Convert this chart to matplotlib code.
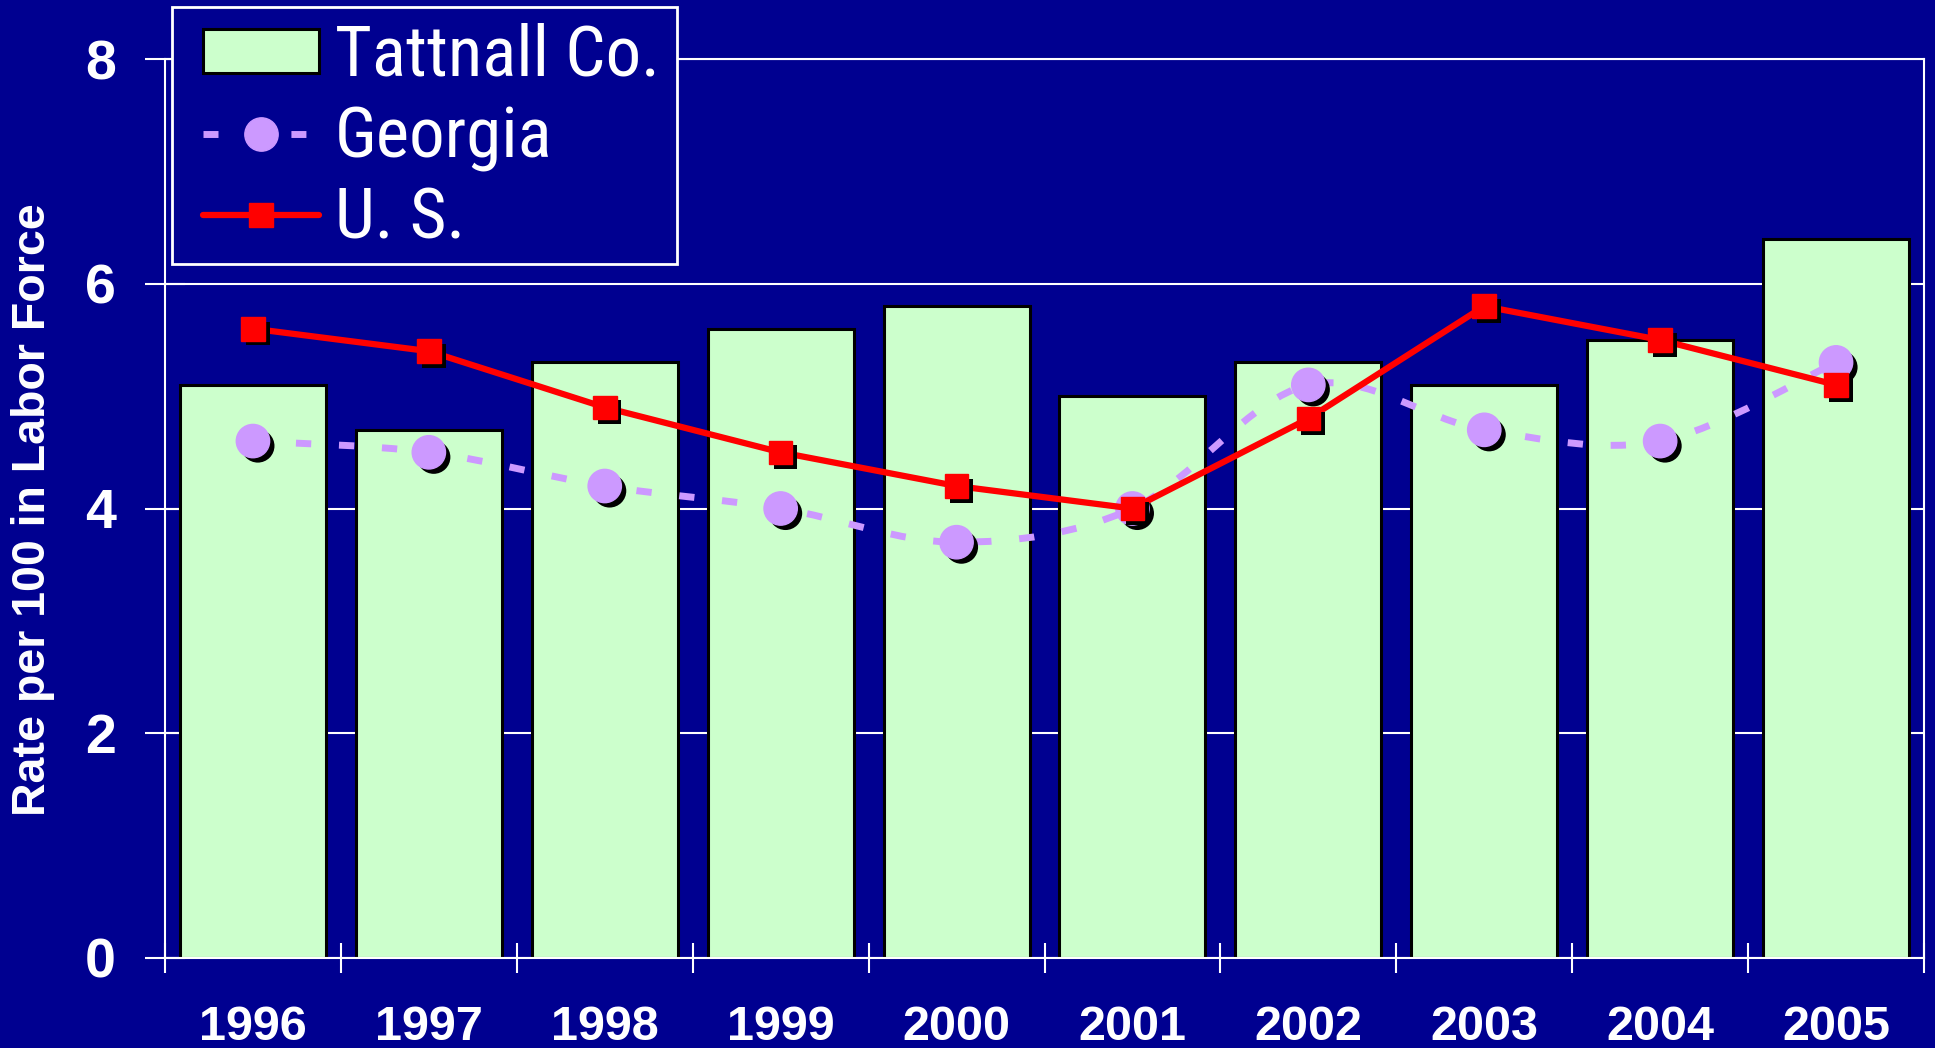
import os
import numpy as np
import matplotlib
matplotlib.use("Agg")
import matplotlib.pyplot as plt
import matplotlib.patheffects as pe
from matplotlib import font_manager as fm
from matplotlib.font_manager import FontProperties
from matplotlib.path import Path
from matplotlib.patches import PathPatch, Patch, Rectangle
from matplotlib.lines import Line2D

# data
years = ["1996", "1997", "1998", "1999", "2000", "2001", "2002", "2003", "2004", "2005"]
tattnall = [5.1, 4.7, 5.3, 5.6, 5.8, 5.0, 5.3, 5.1, 5.5, 6.4]
georgia = [4.6, 4.5, 4.2, 4.0, 3.7, 4.0, 5.1, 4.7, 4.6, 5.3]
us = [5.6, 5.4, 4.9, 4.5, 4.2, 4.0, 4.8, 5.8, 5.5, 5.1]
yticks = [0, 2, 4, 6, 8]
labels = ["Tattnall Co.", "Georgia", "U. S."]

bg = "#000090"
bar_col = "#CCFFCC"
ga_col = "#CC99FF"
us_col = "#FF0000"


def narrow_font(size):
    # look for a condensed sans face for the legend text
    prefs = ["liberation sans narrow", "arial narrow", "roboto condensed",
             "open sans", "noto sans", "dejavu sans"]
    found = []
    for f in fm.fontManager.ttflist:
        base = os.path.basename(f.fname).lower()
        cond = ("condensed" in str(f.stretch) or "narrow" in f.name.lower()
                or "condensed" in f.name.lower() or "narrow" in base or "condensed" in base)
        if not cond or "bold" in base or "italic" in base or "oblique" in base:
            continue
        if "extra" in base or "semi" in base or "light" in base or "black" in base \
                or "medium" in base or "thin" in base:
            continue
        rank = len(prefs)
        for i, p in enumerate(prefs):
            if f.name.lower().startswith(p):
                rank = i
                break
        found.append((rank, f.fname))
    if found:
        found.sort()
        return FontProperties(fname=found[0][1], size=size)
    return FontProperties(family="Liberation Sans", size=size * 0.85)


W, H = 1935, 1048
fig = plt.figure(figsize=(W / 100, H / 100), dpi=100, facecolor=bg)
ax = fig.add_axes([165 / W, 1 - 958 / H, (1924 - 165) / W, (958 - 59) / H])
ax.set_facecolor(bg)

x = np.arange(len(years))

# bars
ax.bar(x, tattnall, width=0.83, color=bar_col, edgecolor="black", linewidth=2.2, zorder=2)

# smoothed georgia line (catmull-rom -> bezier)
pts = np.column_stack([x, georgia]).astype(float)
ext = np.vstack([pts[0], pts, pts[-1]])
verts = [tuple(pts[0])]
codes = [Path.MOVETO]
for i in range(len(pts) - 1):
    p0, p1, p2, p3 = ext[i], ext[i + 1], ext[i + 2], ext[i + 3]
    c1 = p1 + (p2 - p0) / 6
    c2 = p2 - (p3 - p1) / 6
    verts += [tuple(c1), tuple(c2), tuple(p2)]
    codes += [Path.CURVE4] * 3
ga_patch = PathPatch(Path(verts, codes), fill=False, edgecolor=ga_col, linewidth=5,
                     linestyle=(0, (2.2, 4)), capstyle="butt", zorder=3)
ax.add_patch(ga_patch)

shadow = [pe.SimplePatchShadow(offset=(3.5, -3.5), shadow_rgbFace="black", alpha=1), pe.Normal()]
ax.plot(x, georgia, linestyle="none", marker="o", ms=24, color=ga_col, zorder=4,
        path_effects=shadow)

# US line
ax.plot(x, us, color=us_col, lw=4.5, zorder=5)
ax.plot(x, us, linestyle="none", marker="s", ms=17, color=us_col, zorder=6,
        path_effects=shadow)

ax.set_xlim(-0.5, 9.5)
ax.set_ylim(0, 8)

ax.set_yticks(yticks)
ax.set_yticklabels([str(t) for t in yticks])
ax.set_xticks(x)
ax.set_xticklabels(years)
ax.set_xticks(np.arange(-0.5, 10, 1), minor=True)

ax.tick_params(axis="x", which="major", length=0, pad=33.5, labelsize=35, labelcolor="white")
ax.tick_params(axis="x", which="minor", direction="inout", length=21.6, width=1.5, color="white")
ax.tick_params(axis="y", direction="inout", length=29, width=1.5, color="white",
               pad=21, labelsize=40, labelcolor="white")
for lab in ax.get_xticklabels() + ax.get_yticklabels():
    lab.set_fontfamily("Liberation Sans")
    lab.set_fontweight("bold")

ax.yaxis.grid(True, color="white", linewidth=1.5)
ax.set_axisbelow(True)
for s in ax.spines.values():
    s.set_color("white")
    s.set_linewidth(1.5)

fig.text(33 / W, 1 - 510 / H, "Rate per 100 in Labor Force", rotation=90, ha="center", va="center",
         color="white", fontsize=33.5, fontweight="bold", family="Liberation Sans")

# legend box
fig.patches.append(Rectangle((172 / W, 1 - 264 / H), (677 - 172) / W, (264 - 7) / H,
                             transform=fig.transFigure, facecolor=bg, edgecolor="white",
                             linewidth=2, zorder=1))

handles = [
    Patch(facecolor=bar_col, edgecolor="black", linewidth=2.2),
    Line2D([], [], color=ga_col, lw=5, linestyle=(0, (2.16, 10.5)), dash_capstyle="butt",
           marker="o", ms=24),
    Line2D([], [], color=us_col, lw=4.5, solid_capstyle="round", marker="s", ms=17),
]
leg = fig.legend(handles, labels, loc="upper left",
                 bbox_to_anchor=(203 / W, 1 - 23 / H), bbox_transform=fig.transFigure,
                 borderaxespad=0, borderpad=0, frameon=False, labelcolor="white",
                 handlelength=1.64, handleheight=0.57, handletextpad=0.22,
                 labelspacing=0.2, prop=narrow_font(51))
leg.set_zorder(2)

fig.savefig("out.png", dpi=100, facecolor=bg)
